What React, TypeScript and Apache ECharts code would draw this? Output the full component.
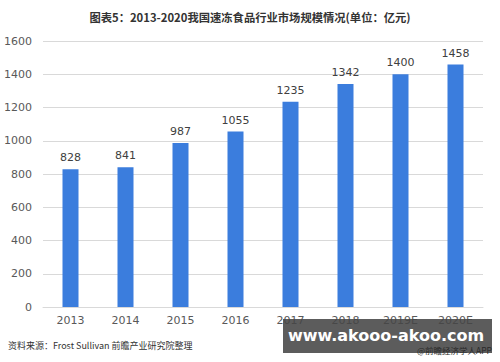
import React, { useEffect, useRef } from "react";
import * as echarts from "echarts";

const categories = ["2013", "2014", "2015", "2016", "2017", "2018", "2019E", "2020E"];
const values = [828, 841, 987, 1055, 1235, 1342, 1400, 1458];
const titleText = "图表5：2013-2020我国速冻食品行业市场规模情况(单位：亿元)";
const sourceText = "资料来源：Frost Sullivan 前瞻产业研究院整理";
const siteText = "www.akooo-akoo.com";
const appText = "@前瞻经济学人APP";

const FONT = "'Noto Sans CJK SC', 'Noto Sans', sans-serif";

export default function App() {
  const ref = useRef<HTMLDivElement>(null);
  useEffect(() => {
    if (!ref.current) return;
    const chart = echarts.init(ref.current, null, { renderer: "svg" });
    chart.setOption({
      animation: false,
      backgroundColor: "#ffffff",
      title: {
        text: titleText,
        left: "center",
        top: 6,
        textStyle: { fontSize: 11.3, fontWeight: "bold", color: "#333333", fontFamily: FONT },
      },
      grid: { left: 43, right: 17, top: 41, bottom: 55 },
      xAxis: {
        type: "category",
        data: categories,
        axisLine: { lineStyle: { color: "#d9d9d9" } },
        axisTick: { show: false },
        axisLabel: { color: "#595959", fontSize: 11, margin: 8, fontFamily: "'DejaVu Sans', sans-serif" },
      },
      yAxis: {
        type: "value",
        min: 0,
        max: 1600,
        interval: 200,
        axisLine: { show: false },
        axisTick: { show: false },
        splitLine: { lineStyle: { color: "#d9d9d9" } },
        axisLabel: {
          color: "#595959",
          fontSize: 11,
          margin: 11,
          fontFamily: "'DejaVu Sans', sans-serif",
          formatter: (v: number) => String(v),
        },
      },
      series: [
        {
          type: "bar",
          data: values,
          barWidth: 16,
          itemStyle: { color: "#3b7ddd" },
          label: {
            show: true,
            position: "top",
            distance: 6,
            color: "#404040",
            fontSize: 11,
            fontFamily: "'DejaVu Sans', sans-serif",
          },
        },
      ],
      graphic: [
        {
          type: "text",
          left: 8,
          top: 341,
          style: { text: sourceText, fontSize: 9, fill: "#333333", fontFamily: FONT },
        },
        {
          type: "rect",
          shape: { x: 283, y: 319, width: 209, height: 34 },
          style: { fill: "rgba(70,70,70,0.88)" },
          z: 100,
        },
        {
          type: "text",
          x: 386,
          y: 335.5,
          z: 101,
          style: {
            text: siteText,
            fontSize: 16,
            fontWeight: "bold",
            fill: "#ffffff",
            fontFamily: "'DejaVu Sans', sans-serif",
            align: "center",
            verticalAlign: "middle",
          },
        },
        {
          type: "text",
          x: 492,
          y: 349.5,
          z: 101,
          style: {
            text: appText,
            fontSize: 8.5,
            fill: "#2a2a2a",
            fontFamily: FONT,
            align: "right",
            verticalAlign: "middle",
          },
        },
      ],
    });
    return () => chart.dispose();
  }, []);
  return <div ref={ref} style={{ width: 500, height: 362, position: "absolute", left: 0, top: 0 }} />;
}
